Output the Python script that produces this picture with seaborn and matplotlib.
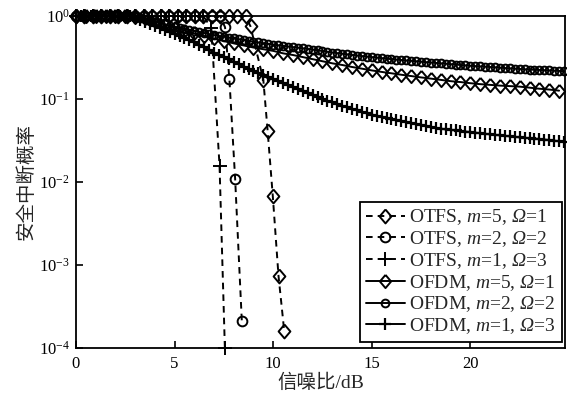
import numpy as np
import pandas as pd
import matplotlib
matplotlib.use("Agg")
import matplotlib.pyplot as plt
import seaborn as sns

# ---------------- data ----------------
# OFDM curves
snr_ofdm_d = np.arange(0, 24.75, 0.5)           # 50 points
ofdm_m5 = [1, 1, 1, 1, 1, 1,
           0.977, 0.933, 0.871, 0.794, 0.724, 0.668, 0.617, 0.575, 0.537, 0.501,
           0.468, 0.442, 0.417, 0.398, 0.380, 0.355, 0.339, 0.320, 0.302, 0.285,
           0.269, 0.257, 0.243, 0.232, 0.221, 0.212, 0.204, 0.196, 0.189, 0.182,
           0.176, 0.170, 0.164, 0.160, 0.155, 0.151, 0.148, 0.145, 0.143, 0.141,
           0.137, 0.133, 0.130, 0.126]

snr_ofdm = np.arange(0, 24.9, 0.25)             # 100 points
ofdm_m2 = [1] * 12 + [
    0.977, 0.945, 0.912, 0.880, 0.851, 0.822, 0.794, 0.767, 0.741, 0.720,
    0.700, 0.680, 0.661, 0.642, 0.624, 0.606, 0.589, 0.575, 0.562, 0.549,
    0.537, 0.525, 0.513, 0.501, 0.490, 0.480, 0.470, 0.461, 0.452, 0.444,
    0.436, 0.429, 0.422, 0.415, 0.408, 0.401, 0.394, 0.386, 0.378, 0.370,
    0.363, 0.357, 0.351, 0.345, 0.339, 0.334, 0.329, 0.324, 0.320, 0.315,
    0.311, 0.306, 0.302, 0.298, 0.295, 0.291, 0.288, 0.285, 0.281, 0.278,
    0.275, 0.272, 0.269, 0.266, 0.263, 0.260, 0.257, 0.254, 0.251, 0.249,
    0.247, 0.245, 0.243, 0.241, 0.238, 0.236, 0.234, 0.232, 0.230, 0.228,
    0.226, 0.225, 0.224, 0.222, 0.221, 0.219, 0.218, 0.216]
ofdm_m1 = [1] * 12 + [
    0.955, 0.900, 0.850, 0.800, 0.760, 0.720, 0.680, 0.640, 0.600, 0.570,
    0.540, 0.510, 0.480, 0.450, 0.420, 0.390, 0.360, 0.340, 0.320, 0.300,
    0.280, 0.265, 0.245, 0.230, 0.220, 0.205, 0.195, 0.183, 0.174, 0.164,
    0.155, 0.147, 0.138, 0.131, 0.124, 0.118, 0.112, 0.106, 0.100, 0.095,
    0.091, 0.087, 0.083, 0.079, 0.076, 0.073, 0.070, 0.067, 0.065, 0.063,
    0.061, 0.059, 0.0575, 0.056, 0.0545, 0.053, 0.0513, 0.050, 0.049, 0.0475,
    0.046, 0.045, 0.044, 0.043, 0.0425, 0.0418, 0.041, 0.0405, 0.040, 0.0393,
    0.0387, 0.0381, 0.0375, 0.037, 0.0365, 0.036, 0.0355, 0.035, 0.0345, 0.034,
    0.0337, 0.0333, 0.033, 0.0325, 0.032, 0.0315, 0.031, 0.0305]

# OTFS curves
snr_otfs_m5 = [0, 0.43, 0.86, 1.29, 1.72, 2.15, 2.58, 3.01, 3.44, 3.87, 4.3,
               4.73, 5.16, 5.59, 6.02, 6.45, 6.88, 7.31, 7.74, 8.17, 8.6,
               8.85, 9.5, 9.72, 9.98, 10.27, 10.56]
otfs_m5 = [1] * 21 + [0.75, 0.17, 0.041, 0.0068, 7.4e-4, 1.6e-4]

snr_otfs_m2 = [0, 0.43, 0.86, 1.29, 1.72, 2.15, 2.58, 3.01, 3.44, 3.87, 4.3,
               4.73, 5.16, 5.59, 6.02, 6.45, 6.88, 7.31,
               7.56, 7.78, 8.07, 8.41]
otfs_m2 = [1] * 18 + [0.73, 0.173, 0.011, 2.1e-4]

snr_otfs_m1 = [0, 0.43, 0.86, 1.29, 1.72, 2.15, 2.58, 3.01, 3.44, 3.87, 4.3,
               4.73, 5.16, 5.59, 6.02, 6.45,
               6.86, 7.28, 7.55]
otfs_m1 = [1] * 16 + [0.72, 0.0156, 1.0e-4]

labels = [r"OTFS, $m$=5, $\mathsf{\Omega}$=1",
          r"OTFS, $m$=2, $\mathsf{\Omega}$=2",
          r"OTFS, $m$=1, $\mathsf{\Omega}$=3",
          r"OFDM, $m$=5, $\mathsf{\Omega}$=1",
          r"OFDM, $m$=2, $\mathsf{\Omega}$=2",
          r"OFDM, $m$=1, $\mathsf{\Omega}$=3"]
xticks = [0, 5, 10, 15, 20]

# ---------------- style ----------------
sns.set_theme(style="white")
plt.rcParams["font.family"] = ["Liberation Serif", "Noto Sans CJK SC", "DejaVu Sans"]
plt.rcParams["mathtext.fontset"] = "custom"
plt.rcParams["mathtext.rm"] = "Liberation Serif"
plt.rcParams["mathtext.it"] = "Liberation Serif:italic"
plt.rcParams["mathtext.sf"] = "Liberation Serif:italic"
plt.rcParams["mathtext.bf"] = "Liberation Serif:bold"
plt.rcParams["axes.unicode_minus"] = True
plt.rcParams["lines.dashed_pattern"] = [3.4, 2.6]

# slightly tall diamond marker
diamond = [(0, 1), (0.85, 0), (0, -1), (-0.85, 0), (0, 1)]

fig = plt.figure(figsize=(5.67, 3.95), dpi=100)
ax = fig.add_axes([76 / 567, 1 - 348 / 395, (565 - 76) / 567, (348 - 16) / 395])

series = [
    (snr_otfs_m5, otfs_m5, diamond, 10.0, "--", 1.4),
    (snr_otfs_m2, otfs_m2, "o", 7.0, "--", 1.4),
    (snr_otfs_m1, otfs_m1, "+", 10.5, "--", 1.4),
    (snr_ofdm_d, ofdm_m5, diamond, 9.5, "-", 1.4),
    (snr_ofdm, ofdm_m2, "o", 5.6, "-", 1.4),
    (snr_ofdm, ofdm_m1, "+", 8.5, "-", 1.6),
]

for (x, y, mk, ms, ls, mew), lab in zip(series, labels):
    df = pd.DataFrame({"snr": np.asarray(x, float), "p": np.asarray(y, float)})
    sns.lineplot(data=df, x="snr", y="p", ax=ax, color="black", linestyle=ls,
                 linewidth=1.4, marker=mk, markersize=ms, markeredgewidth=mew,
                 markerfacecolor="none", markeredgecolor="black",
                 label=lab, sort=False, errorbar=None, clip_on=False, zorder=3)

ax.set_yscale("log")
ax.set_ylim(1e-4, 1)
ax.set_xlim(0, 24.8)
ax.set_xticks(xticks)
ax.set_yticks([1e-4, 1e-3, 1e-2, 1e-1, 1])
ax.minorticks_off()
ax.tick_params(axis="both", direction="in", length=5, width=1.2,
               labelsize=12, colors="black", bottom=True, left=True,
               top=False, right=False)
ax.tick_params(axis="x", pad=6)
ax.tick_params(axis="y", pad=4.5)
for s in ax.spines.values():
    s.set_color("black")
    s.set_linewidth(1.3)

ax.set_xlabel("信噪比/dB", fontsize=14, labelpad=1)
ax.set_ylabel("安全中断概率", fontsize=14, labelpad=2)

leg = ax.legend(loc="lower right", bbox_to_anchor=(0.994, 0.018),
                borderaxespad=0, fontsize=14, frameon=True, fancybox=False,
                edgecolor="black", framealpha=1, handlelength=2.0,
                handletextpad=0.25, labelspacing=0.1, borderpad=0.3,
                numpoints=1)
leg.get_frame().set_linewidth(1.3)

fig.savefig("out.png", dpi=100)
